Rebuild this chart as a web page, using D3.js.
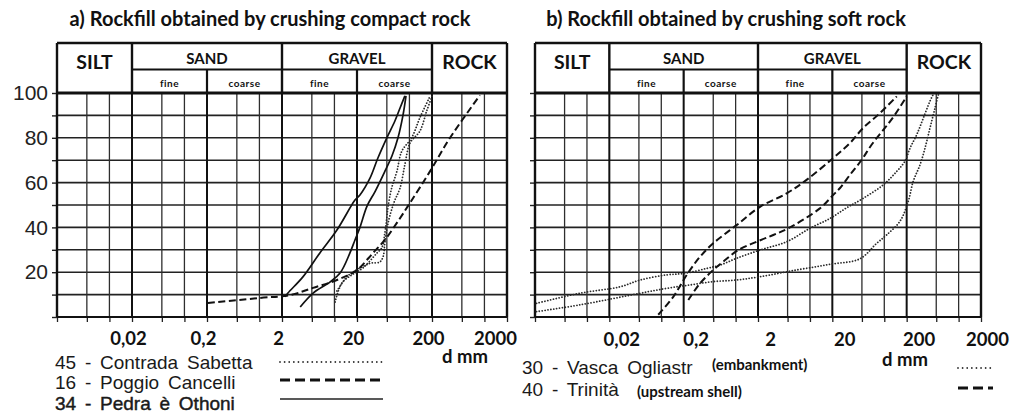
<!DOCTYPE html>
<html>
<head>
<meta charset="utf-8">
<script src="https://cdn.jsdelivr.net/npm/d3@7/dist/d3.min.js"></script>
<style>
  body { margin: 0; background: #fff; }
  svg { display: block; }
</style>
</head>
<body>
<svg id="chart" width="1012" height="414"></svg>
<script>
// Labelled grain sizes (mm) and their printed labels
const sizeTicks = [0.02, 0.2, 2, 20, 200, 2000];
const sizeTickLabels = ["0,02", "0,2", "2", "20", "200", "2000"];
// Vertical rulings of the grading paper (mm)
const sizeGrid = [0.002, 0.005, 0.01, 0.02, 0.05, 0.1, 0.2, 0.5, 1, 2, 5, 10, 20, 50, 100, 200, 500, 1000, 2000];
// Percent passing rulings and labelled values
const passingGrid = [0, 10, 20, 30, 40, 50, 60, 70, 80, 90, 100];
const passingLabels = [20, 40, 60, 80, 100];

// Soil classification bands (mm)
const fractionNames = ["SILT", "SAND", "GRAVEL", "ROCK"];
const fractionLimits = [0.002, 0.02, 2, 200, 2000];
const subdividedFractions = ["SAND", "GRAVEL"];
const subNames = ["fine", "coarse"];

// a) compact rock — grading envelopes as [d mm, % passing]
const sabettaUpper = [[10.2, 6.7], [12.6, 15.2], [17.1, 18.8], [24, 21.9], [37, 28.6], [43, 31], [47, 37.5], [50, 44.6], [52, 49.4], [58, 57.6], [68, 65], [79, 74], [107, 80], [138, 89], [188, 98.5]];
const sabettaLower = [[10.8, 11.6], [14.6, 17.9], [17.7, 20], [30, 24], [40, 24.5], [44.6, 27], [47, 33], [52, 42], [62, 51], [75, 57.6], [87, 68], [102, 77.7], [138, 83], [170, 92], [200, 98.5]];
const cancelli = [[0.206, 6.3], [1.02, 8.5], [2.56, 9.8], [5.18, 13], [10.8, 16.5], [20, 21], [32.7, 28.6], [47, 34.4], [68, 42], [102, 51], [188, 65], [348, 80], [870, 99]];
const othoniUpper = [[2.2, 9], [2.4, 10.7], [3.8, 17.9], [6.4, 28.6], [10.8, 38.8], [18.8, 52.2], [21.9, 54.5], [29.8, 62], [38, 71], [50, 80], [64, 87.5], [75, 93.3], [87, 98.7]];
const othoniLower = [[3.5, 4.5], [5.2, 10.7], [8.7, 15.6], [11.9, 19.6], [16.1, 28.6], [18.8, 34.4], [21.9, 40], [27.2, 49.5], [34.8, 56], [47, 65], [58.6, 72], [70.4, 80], [82, 90], [90, 98.7]];

// b) soft rock — grading envelopes as [d mm, % passing]
const ogliastraUpper = [[0.0021, 6.1], [0.008, 10.6], [0.028, 13.5], [0.052, 16.5], [0.118, 18.8], [0.208, 19.5], [0.41, 21.7], [0.62, 23.2], [1.03, 26.2], [2.13, 29.9], [4.86, 33.6], [10, 39.6], [18.6, 44], [31, 48.7], [52, 53], [97, 59], [147, 65], [190, 69.6], [222, 75.4], [273, 81.4], [335, 88.8], [412, 96.4], [453, 99.2]];
const ogliastraLower = [[0.0021, 2.4], [0.008, 5.4], [0.052, 10.6], [0.118, 12.8], [0.243, 14.3], [0.5, 15.8], [1.03, 16.5], [2.13, 18], [6.64, 21], [18.6, 23.5], [47, 26], [79, 32.9], [108, 36.7], [163, 42.8], [210, 51.6], [245, 60.6], [303, 68], [353, 75.4], [412, 84.4], [481, 93.3], [533, 99.2]];
const trinitaUpper = [[0.091, 1], [0.145, 9], [0.22, 18.8], [0.332, 26.9], [0.5, 32.9], [1.03, 41], [2.13, 49.2], [4.86, 55.2], [9, 61.2], [20.6, 71], [34.6, 77.7], [52, 84.4], [87.5, 91], [147, 98.5]];
const trinitaLower = [[0.231, 7.6], [0.332, 15], [0.5, 21], [0.68, 24.7], [1.09, 29.9], [1.92, 33.6], [3.21, 36.6], [5.12, 39.6], [13.6, 48.5], [20.6, 54.5], [25.4, 57.6], [34.6, 63.5], [49.7, 70.2], [67.8, 77], [102, 84.4], [139, 90.3], [200, 98.5]];

// Legend entries
const legendA = ["45 - Contrada Sabetta", "16 - Poggio Cancelli", "34 - Pedra è Othoni"];
const legendB = ["30 - Vasca Ogliastr", "40 - Trinità"];
const legendBNotes = ["(embankment)", "(upstream shell)"];

const titles = ["a) Rockfill obtained by crushing compact rock", "b) Rockfill obtained by crushing soft rock"];
const axisTitle = "d mm";

// ---------- layout ----------
const headTop = 43, headMid = 69.5, gridTop = 93, gridBottom = 317;
const boldFont = "Lato, 'Open Sans', sans-serif";
const plainFont = "'Liberation Sans', Arial, sans-serif";

const lineStyles = {
  dotted: { stroke: "#2a2a2a", width: 1.8, dash: "0.01 2.9", cap: "round" },
  dashed: { stroke: "#111", width: 2, dash: "7 3.5", cap: "butt" },
  solid:  { stroke: "#111", width: 1.7, dash: null, cap: "butt" }
};
const legendStyles = {
  dotted: { stroke: "#333", width: 1.8, dash: "0.01 4.6", cap: "round" },
  dashed: { stroke: "#111", width: 2.8, dash: "10 5", cap: "butt" },
  solid:  { stroke: "#222", width: 1.3, dash: null, cap: "butt" }
};

const panels = [
  {
    x0: 57, x1: 507, title: titles[0], titleX: 270, yLabels: true,
    labelDx: -4, lastLabelDx: -12, labelY: 345, dmmX: 465, dmmY: 363,
    series: [
      { data: sabettaUpper, style: "dotted" }, { data: sabettaLower, style: "dotted" },
      { data: cancelli, style: "dashed" },
      { data: othoniUpper, style: "solid" }, { data: othoniLower, style: "solid" }
    ],
    legend: {
      names: legendA, styles: ["dotted", "dashed", "solid"],
      textX: 55, baselines: [369, 389, 410], size: 19, wordSpacing: 3.5,
      sampleX: [280, 383], sampleY: [362, 380, 399], weights: [0, 0, 0.45]
    }
  },
  {
    x0: 535, x1: 981, title: titles[1], titleX: 726, yLabels: false,
    labelDx: 12, lastLabelDx: 6, labelY: 346, dmmX: 905, dmmY: 366,
    series: [
      { data: ogliastraUpper, style: "dotted" }, { data: ogliastraLower, style: "dotted" },
      { data: trinitaUpper, style: "dashed" }, { data: trinitaLower, style: "dashed" }
    ],
    legend: {
      names: legendB, styles: ["dotted", "dashed"], notes: legendBNotes,
      textX: 522, baselines: [374, 396], size: 19, wordSpacing: 3.5,
      noteX: [712, 637], noteBaselines: [370, 397],
      sampleX: [958, 993], sampleY: [368, 388], weights: [0, 0]
    }
  }
];

const svg = d3.select("#chart");
svg.append("rect").attr("width", 1012).attr("height", 414).attr("fill", "#fff");

panels.forEach(p => {
  const x = d3.scaleLog().domain([fractionLimits[0], fractionLimits[fractionLimits.length - 1]]).range([p.x0, p.x1]);
  const y = d3.scaleLinear().domain([0, 100]).range([gridBottom, gridTop]);
  const g = svg.append("g");

  // title
  g.append("text").attr("x", p.titleX).attr("y", 26).attr("text-anchor", "middle")
    .attr("font-family", boldFont).attr("font-weight", 700).attr("font-size", 20)
    .attr("fill", "#111").text(p.title);

  // grid: horizontal rulings
  g.append("g").selectAll("line").data(passingGrid).join("line")
    .attr("x1", p.x0).attr("x2", p.x1)
    .attr("y1", d => y(d)).attr("y2", d => y(d))
    .attr("stroke", "#222").attr("stroke-width", 1.6);

  // grid: vertical rulings, decades heavier
  const decadeFrac = d => {
    const f = Math.log10(d / fractionLimits[0]) % 1;
    return Math.min(Math.abs(f), Math.abs(1 - f));
  };
  const isDecade = d => decadeFrac(d) < 1e-6;
  g.append("g").selectAll("line").data(sizeGrid).join("line")
    .attr("x1", d => x(d)).attr("x2", d => x(d))
    .attr("y1", gridTop).attr("y2", gridBottom)
    .attr("stroke", d => isDecade(d) ? "#111" : "#2e2e2e")
    .attr("stroke-width", d => isDecade(d) ? 2 : 1.3);

  // axes with outward ticks
  const xAxis = d3.axisBottom(x).tickValues(sizeGrid).tickSize(5).tickFormat("");
  const xg = g.append("g").attr("transform", `translate(0,${gridBottom})`).call(xAxis);
  xg.select(".domain").remove();
  xg.selectAll(".tick line").attr("stroke", "#222").attr("stroke-width", 1.3);

  const xLab = d3.axisBottom(x).tickValues(sizeTicks).tickSize(0)
    .tickFormat((d, i) => sizeTickLabels[i]);
  const xl = g.append("g").attr("transform", `translate(0,${gridBottom})`).call(xLab);
  xl.select(".domain").remove();
  xl.selectAll(".tick text")
    .attr("font-family", boldFont).attr("font-weight", 700).attr("font-size", 18.5)
    .attr("fill", "#111").attr("dy", null)
    .attr("y", p.labelY - gridBottom)
    .attr("x", (d, i) => i === sizeTicks.length - 1 ? p.lastLabelDx : p.labelDx);

  const yAxis = d3.axisLeft(y).tickValues(passingGrid).tickSize(5).tickPadding(4)
    .tickFormat(d => (p.yLabels && passingLabels.includes(d)) ? d : "");
  const yg = g.append("g").attr("transform", `translate(${p.x0},0)`).call(yAxis);
  yg.select(".domain").remove();
  yg.selectAll(".tick line").attr("stroke", "#222").attr("stroke-width", 1.4);
  yg.selectAll(".tick text").attr("font-family", plainFont).attr("font-size", 21)
    .attr("fill", "#222");

  // plot border
  g.append("line").attr("x1", p.x0).attr("x2", p.x1).attr("y1", gridBottom).attr("y2", gridBottom)
    .attr("stroke", "#111").attr("stroke-width", 2.2);
  [p.x0, p.x1].forEach(xx => g.append("line").attr("x1", xx).attr("x2", xx)
    .attr("y1", headTop).attr("y2", gridBottom).attr("stroke", "#111").attr("stroke-width", 2.4));

  // classification header
  const head = g.append("g");
  head.append("line").attr("x1", p.x0).attr("x2", p.x1).attr("y1", headTop).attr("y2", headTop)
    .attr("stroke", "#111").attr("stroke-width", 2.6);
  head.append("line").attr("x1", p.x0).attr("x2", p.x1).attr("y1", gridTop).attr("y2", gridTop)
    .attr("stroke", "#111").attr("stroke-width", 2.8);
  head.selectAll("line.band").data(fractionLimits.slice(1, -1)).join("line").attr("class", "band")
    .attr("x1", d => x(d)).attr("x2", d => x(d)).attr("y1", headTop).attr("y2", gridTop)
    .attr("stroke", "#111").attr("stroke-width", 2.4);

  fractionNames.forEach((name, i) => {
    const a = fractionLimits[i], b = fractionLimits[i + 1];
    const cx = (x(a) + x(b)) / 2;
    if (subdividedFractions.includes(name)) {
      const mid = Math.sqrt(a * b);
      head.append("line").attr("x1", x(a)).attr("x2", x(b)).attr("y1", headMid).attr("y2", headMid)
        .attr("stroke", "#111").attr("stroke-width", 2.2);
      head.append("line").attr("x1", x(mid)).attr("x2", x(mid)).attr("y1", headMid).attr("y2", gridTop)
        .attr("stroke", "#111").attr("stroke-width", 2.2);
      head.append("text").attr("x", cx).attr("y", 64).attr("text-anchor", "middle")
        .attr("font-family", boldFont).attr("font-weight", 700).attr("font-size", 15)
        .attr("fill", "#111").text(name);
      [[a, mid], [mid, b]].forEach((r, k) => {
        head.append("text").attr("x", (x(r[0]) + x(r[1])) / 2).attr("y", 86.5)
          .attr("text-anchor", "middle").attr("font-family", boldFont).attr("font-weight", 700)
          .attr("font-size", 10).attr("letter-spacing", 0.5).attr("fill", "#111").text(subNames[k]);
      });
    } else {
      head.append("text").attr("x", cx).attr("y", 68.5).attr("text-anchor", "middle")
        .attr("font-family", boldFont).attr("font-weight", 700).attr("font-size", 19.5)
        .attr("fill", "#111").text(name);
    }
  });

  // grading curves
  const line = d3.line().x(d => x(d[0])).y(d => y(d[1])).curve(d3.curveCatmullRom.alpha(0.5));
  g.append("g").selectAll("path").data(p.series).join("path")
    .attr("d", s => line(s.data)).attr("fill", "none")
    .attr("stroke", s => lineStyles[s.style].stroke)
    .attr("stroke-width", s => lineStyles[s.style].width)
    .attr("stroke-dasharray", s => lineStyles[s.style].dash)
    .attr("stroke-linecap", s => lineStyles[s.style].cap);

  // axis title
  g.append("text").attr("x", p.dmmX).attr("y", p.dmmY).attr("text-anchor", "middle")
    .attr("font-family", boldFont).attr("font-weight", 700).attr("font-size", 18.5)
    .attr("fill", "#111").text(axisTitle);

  // legend
  const L = p.legend;
  L.names.forEach((name, i) => {
    g.append("text").attr("x", L.textX).attr("y", L.baselines[i])
      .attr("font-family", plainFont).attr("font-size", L.size).attr("word-spacing", L.wordSpacing)
      .attr("fill", "#1a1a1a")
      .attr("stroke", L.weights[i] ? "#1a1a1a" : "none").attr("stroke-width", L.weights[i])
      .text(name);
    const st = legendStyles[L.styles[i]];
    g.append("line").attr("x1", L.sampleX[0]).attr("x2", L.sampleX[1])
      .attr("y1", L.sampleY[i]).attr("y2", L.sampleY[i])
      .attr("stroke", st.stroke).attr("stroke-width", st.width)
      .attr("stroke-dasharray", st.dash).attr("stroke-linecap", st.cap);
    if (L.notes) {
      g.append("text").attr("x", L.noteX[i]).attr("y", L.noteBaselines[i])
        .attr("font-family", boldFont).attr("font-weight", 700).attr("font-size", 15)
        .attr("fill", "#111").text(L.notes[i]);
    }
  });
});
</script>
</body>
</html>
